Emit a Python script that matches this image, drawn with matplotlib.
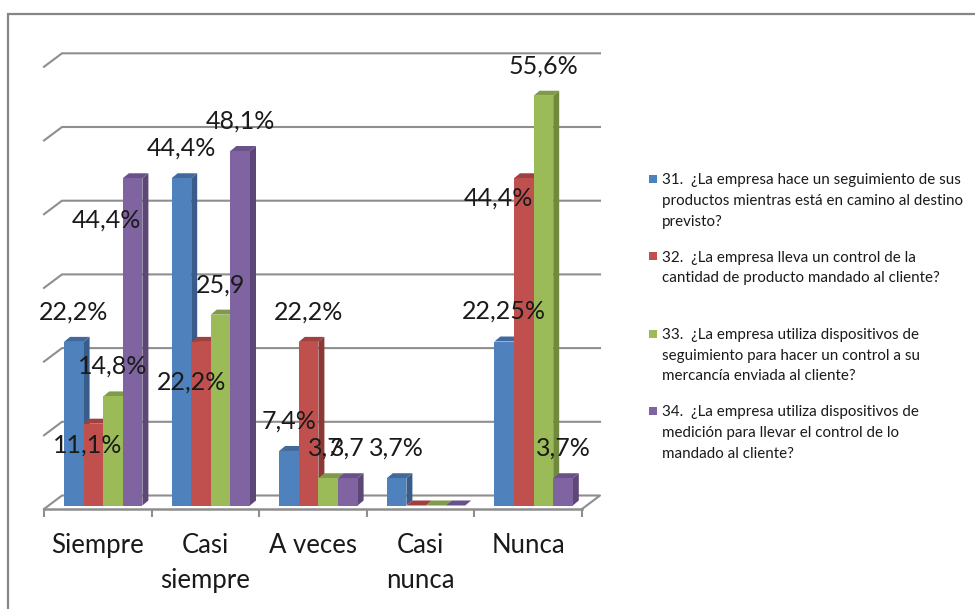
import matplotlib
matplotlib.use("Agg")
import matplotlib.pyplot as plt
from matplotlib.patches import Polygon, Rectangle

plt.rcParams["font.family"] = ["Lato", "DejaVu Sans"]

categories = ["Siempre", "Casi\nsiempre", "A veces", "Casi\nnunca", "Nunca"]
q31 = [22.2, 44.4, 7.4, 3.7, 22.25]
q32 = [11.1, 22.2, 22.2, 0, 44.4]
q33 = [14.8, 25.9, 3.7, 0, 55.6]
q34 = [44.4, 48.1, 3.7, 0, 3.7]
q31_labels = ["22,2%", "44,4%", "7,4%", "3,7%", "22,25%"]
q32_labels = ["11,1%", "22,2%", "22,2%", None, "44,4%"]
q33_labels = ["14,8%", "25,9", "3,7", None, "55,6%"]
q34_labels = ["44,4%", "48,1%", "3,7", None, "3,7%"]
legend_texts = [
    "31.  ¿La empresa hace un seguimiento de sus\nproductos mientras está en camino al destino\nprevisto?",
    "32.  ¿La empresa lleva un control de la\ncantidad de producto mandado al cliente?",
    "33.  ¿La empresa utiliza dispositivos de\nseguimiento para hacer un control a su\nmercancía enviada al cliente?",
    "34.  ¿La empresa utiliza dispositivos de\nmedición para llevar el control de lo\nmandado al cliente?",
]
gridline_values = [10, 20, 30, 40, 50, 60]

W, H = 975, 609
FRONT = ["#4F81BD", "#C0504D", "#9BBB59", "#8064A2"]
SIDE = ["#385D8A", "#8C3836", "#71893F", "#5C4776"]
TOP = ["#41699B", "#9E413F", "#7F9A49", "#69528A"]
GRID = "#8E8E8E"
TEXT = "#1A1A1A"

# one category is 107.6 px wide and one percentage point 7.37 px tall
PX_X = 1 / 107.6
PX_Y = 1 / 7.37

fig = plt.figure(figsize=(W / 100, H / 100), dpi=100)
ax = fig.add_axes([44 / W, (H - 509) / H, 538 / W, 66 * 7.37 / H])
ax.set_xlim(0, 5)
ax.set_ylim(0, 66)
ax.patch.set_visible(False)

# outer frame, open towards the right and bottom edges
fig.add_artist(Rectangle((8 / W, -0.1), 1.1, (H - 14) / H + 0.1, transform=fig.transFigure,
                         fill=False, ec="#868686", lw=1.6))

# back wall gridlines with the short diagonal on the left
depth_x, depth_y = 18 * PX_X, 13.5 * PX_Y
for v in gridline_values:
    ax.plot([0, depth_x, 5 + depth_x], [v, v + depth_y, v + depth_y], color=GRID, lw=1.5,
            clip_on=False, zorder=1, solid_joinstyle="miter")
# floor
ax.plot([0, depth_x, 5 + depth_x, 5], [0, depth_y, depth_y, 0], color=GRID, lw=1.5,
        clip_on=False, zorder=1)

for s in ["left", "top", "right"]:
    ax.spines[s].set_visible(False)
ax.spines["bottom"].set_color(GRID)
ax.spines["bottom"].set_linewidth(1.8)
ax.set_yticks([])
ax.set_xticks(range(6))
ax.set_xticklabels([])
ax.tick_params(axis="x", which="major", length=6, width=1.5, color=GRID)
ax.set_xticks([i + 0.5 for i in range(5)], minor=True)
ax.set_xticklabels(categories, minor=True, fontsize=18.5, color=TEXT, linespacing=1.5, va="top")
ax.tick_params(axis="x", which="minor", length=0, pad=17)

series = [q31, q32, q33, q34]
series_labels = [q31_labels, q32_labels, q33_labels, q34_labels]
# labels mostly sit 30 px above their bar, a few were moved by hand: (series, group) -> px
moved = {(1, 0): (-6, -21), (3, 0): (-26, -42), (1, 1): (-9, -40), (1, 4): (-25, -20),
         (2, 2): (-3, 30)}

bar_w = 19.6 * PX_X
base = 3.5 * PX_Y
dx, dy = 6 * PX_X, 5 * PX_Y
for g in range(5):
    x0 = g + 20 * PX_X
    for s in range(4):
        v = series[s][g]
        left = x0 + s * bar_w
        right = left + bar_w
        top = base + v
        z = 3 + g + s * 0.1
        ax.add_patch(Polygon([(right, base), (right + dx, base + dy), (right + dx, top + dy), (right, top)],
                             fc=SIDE[s], ec="none", zorder=z))
        ax.add_patch(Polygon([(left, top), (left + dx, top + dy), (right + dx, top + dy), (right, top)],
                             fc=TOP[s], ec="none", zorder=z))
        ax.add_patch(Rectangle((left, base), bar_w, v, fc=FRONT[s], ec="none", zorder=z))
        label = series_labels[s][g]
        if label is not None:
            ox, oy = moved.get((s, g), (0, 30))
            ax.annotate(label, (left + bar_w / 2, top), xytext=(ox * 0.72, oy * 0.72),
                        textcoords="offset points", ha="center", va="center",
                        fontsize=18, color=TEXT, zorder=20, annotation_clip=False)

# legend keys and wrapped question texts
for i, txt in enumerate(legend_texts):
    y = 179 + i * 77.3
    fig.add_artist(Rectangle((649 / W, 1 - (y + 4) / H), 8 / W, 8 / H, transform=fig.transFigure,
                             fc=FRONT[i], ec="none"))
    fig.text(662 / W, 1 - (y - 5.5) / H, txt, fontsize=10.9, color=TEXT, va="top", ha="left",
             linespacing=1.6)

fig.savefig("out.png", dpi=100, facecolor="white")
